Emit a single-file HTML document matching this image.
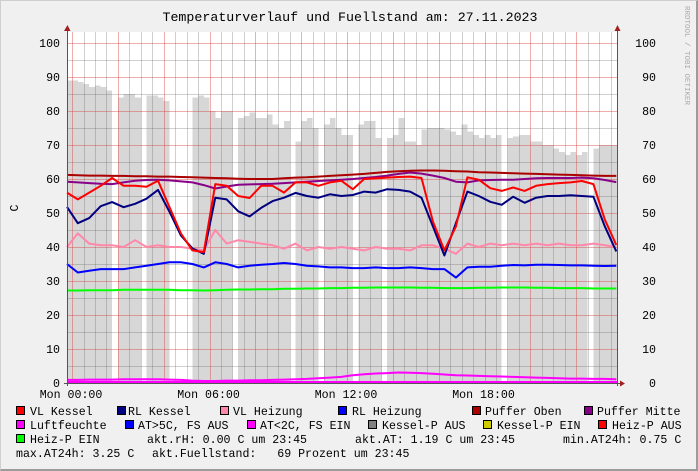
<!DOCTYPE html>
<html><head><meta charset="utf-8">
<style>
html,body{margin:0;padding:0;}
body{width:698px;height:471px;background:#f0f0f0;overflow:hidden;position:relative;font-family:"Liberation Mono","DejaVu Sans Mono",monospace;}
#frame{position:absolute;left:0;top:0;border-right:2px solid #9c9c9c;border-bottom:2px solid #9c9c9c;border-left:1px solid #cfcfcf;border-top:1px solid #cfcfcf;box-sizing:border-box;width:698px;height:471px;}
svg{position:absolute;left:0;top:0;}
text{font-family:"Liberation Mono","DejaVu Sans Mono",monospace;}
</style></head>
<body>
<div id="frame"></div>
<svg id="chart" width="698" height="471"></svg>
<script>
const fillTimes0 = -0.25, fillStep = 0.25;
const fuellstand = [89,89,88.5,88,87,87.5,87,86,0,84,85,85,84,0,84.5,84.5,84,83,0,0,0,0,84,84.5,84,80,78,80,80,0,78,78.5,79.5,78,78,79,76,75,77,0,71,77,78,75,0,76,78,75,73,73,0,76,77,77,72,0,72,73,78,71,71,70,74.5,75,75,75,74.5,74,73,76,74,73,72,73,72,73,0,72,72.5,73,73,71,71,70,70,69,68,67,68,67,68,0,69,70,70,70,70];
const lineTimes0 = -0.25, lineStep = 0.5;
const vlKessel = [56,54,56,58,60.3,58,58,57.7,59.5,51.8,44,39,38.5,58.5,58,55,54.4,58,58,56,59,59,58,59,59.5,57,60,60.2,60.4,60.6,60.7,60.3,47.4,39,46,60.5,59.8,57.3,56.5,57.5,56.5,58,58.5,58.8,59,59.4,58.5,48,40.6];
const rlKessel = [51.8,47,48.5,52,53.2,51.7,52.7,54.2,56.8,50.4,43.4,39.6,38,54.5,54,50.5,49,51.5,53.5,54.5,55.9,55,54.5,55.5,55,55.3,56.3,56,57,56.8,56.3,54.5,46,37.5,47,56.3,55,53.3,52.4,54.8,53,54.5,55,55,55.2,55,54.8,46,38.7];
const vlHeizung = [40,44,41,40.5,40.5,40,42,40,40.5,40,40,39.5,39,45,41,42,41.5,41,40.5,39.5,41,39,40,39.5,40,39.5,39,40,39.5,39.5,39,40.5,40.5,39.5,38,41,40,41,40.5,41,40.5,41,40.5,41,40.5,40.5,41,40.5,40];
const rlHeizung = [35,32.5,33,33.5,33.5,33.5,34,34.5,35,35.5,35.5,35,34,35.5,35,34,34.5,34.8,35,35.3,35,34.5,34.3,34,34,33.8,33.8,34,33.8,33.8,34,33.8,33.5,33.5,31,34,34.2,34.2,34.5,34.7,34.6,34.8,34.8,34.7,34.6,34.6,34.5,34.4,34.5];
const pufferOben = [61.2,61.1,61,61,60.9,60.9,60.8,60.8,60.7,60.7,60.6,60.5,60.4,60.3,60.2,60.1,60,60,60,60.2,60.4,60.5,60.7,60.9,61.1,61.3,61.5,61.8,62.1,62.3,62.4,62.5,62.5,62.4,62.3,62.2,62,61.9,61.8,61.7,61.6,61.5,61.4,61.3,61.2,61.1,61,60.9,60.9];
const pufferMitte = [59.2,59,58.8,58.6,58.5,59,59.5,59.7,59.8,59.6,59.3,59,58.2,57.2,57.8,58.3,58.4,58.5,58.6,58.8,59,59.2,59.4,59.6,59.8,60,60.3,60.6,61,61.5,61.9,61.6,61,60.3,59.2,59,59.6,59.7,59.8,59.8,60,60.2,60.3,60.3,60.3,60.4,60.2,59.7,59.1];
const heizPEin = [27.2,27.2,27.3,27.3,27.3,27.4,27.4,27.4,27.4,27.4,27.3,27.3,27.2,27.3,27.4,27.5,27.5,27.6,27.6,27.7,27.7,27.8,27.8,27.9,27.9,28,28,28.1,28.1,28.1,28.1,28,28,27.9,27.9,27.9,28,28,28.1,28.1,28.1,28,28,27.9,27.9,27.9,27.8,27.8,27.8];
const luftfeuchte = [0.9,0.9,1,1,1,1.1,1.1,1.1,1.1,1,0.9,0.7,0.6,0.6,0.7,0.7,0.8,0.8,0.9,1,1.1,1.2,1.4,1.6,1.8,2.3,2.6,2.8,2.9,3.1,3,2.9,2.7,2.5,2.3,2.2,2.1,2,1.9,1.8,1.7,1.6,1.5,1.4,1.3,1.3,1.2,1.2,1.1];
const yTicks = [0,10,20,30,40,50,60,70,80,90,100];
const xTickHours = [0,6,12,18];
const xTickLabels = ["Mon 00:00","Mon 06:00","Mon 12:00","Mon 18:00"];

const NS="http://www.w3.org/2000/svg";
const svg=document.getElementById('chart');
const L=67,R=617,T=32,B=383;
const H0=-0.22,H1=23.78;
function xs(h){return L+(h-H0)/(H1-H0)*(R-L);}
function ys(v){return B-v*3.4;}
function mk(tag,attrs,parent){const e=document.createElementNS(NS,tag);for(const k in attrs)e.setAttribute(k,attrs[k]);(parent||svg).appendChild(e);return e;}

const bg=mk('rect',{x:L,y:T,width:R-L,height:B-T,fill:'#ffffff'});



let d='';
let open=false;
fuellstand.forEach((v,i)=>{
  const h=fillTimes0+i*fillStep;
  const x0=Math.max(L,xs(h)),x1=Math.min(R,xs(h+fillStep));
  if(v<=0||x1<=x0){ if(open){d+=`L${x0.toFixed(1)},${B}Z`;open=false;} return; }
  if(!open){d+=`M${x0.toFixed(1)},${B}`;open=true;}
  d+=`L${x0.toFixed(1)},${ys(v).toFixed(1)}L${x1.toFixed(1)},${ys(v).toFixed(1)}`;
});
if(open)d+=`L${R},${B}Z`;
const area=mk('path',{d:d,fill:'#d7d7d7','shape-rendering':'crispEdges'});



const gGrid=mk('g',{'shape-rendering':'crispEdges'});


for(let v=5;v<=100;v+=5){
  const major=v%10===0;
  const y=Math.round(ys(v))+0.5;
  mk('line',{x1:L,x2:R,y1:y,y2:y,stroke:major?'rgba(220,60,60,0.42)':'rgba(100,100,100,0.3)','stroke-width':1},gGrid);
}
for(let h=0;h<=H1;h+=0.5){
  const major=Math.abs(h%2)<1e-6;
  const x=Math.round(xs(h))+0.5;
  mk('line',{x1:x,x2:x,y1:T,y2:B,stroke:major?'rgba(220,60,60,0.42)':'rgba(100,100,100,0.3)','stroke-width':1},gGrid);
}

function drawLine(arr,color,name,w){
  const pts=arr.map((v,i)=>xs(Math.min(H1,Math.max(H0,lineTimes0+i*lineStep))).toFixed(1)+','+ys(v).toFixed(1)).join(' ');
  const p=mk('polyline',{points:pts,fill:'none',stroke:color,'stroke-width':w||2,'stroke-linejoin':'round'});
  
  
}
drawLine(heizPEin,'#00ff00','heiz-p-ein-line',2);
drawLine(luftfeuchte,'#ff00ff','luftfeuchte-line',2);
drawLine(rlHeizung,'#0000ff','rl-heizung-line',2);
drawLine(vlHeizung,'#ff88aa','vl-heizung-line',2);
drawLine(pufferOben,'#aa0000','puffer-oben-line',2);
drawLine(pufferMitte,'#880088','puffer-mitte-line',2);
drawLine(rlKessel,'#000080','rl-kessel-line',2);
drawLine(vlKessel,'#ff0000','vl-kessel-line',2);
const zl=mk('line',{x1:L,x2:R,y1:B-1,y2:B-1,stroke:'#ff00ff','stroke-width':2});



const ax=mk('g',{});


mk('line',{x1:L+0.5,x2:L+0.5,y1:T-3,y2:B+3,stroke:'#555','stroke-width':1},ax);
mk('line',{x1:R+0.5,x2:R+0.5,y1:T-3,y2:B+3,stroke:'#555','stroke-width':1},ax);
mk('line',{x1:L-3,x2:R+3,y1:B+0.5,y2:B+0.5,stroke:'#555','stroke-width':1},ax);
mk('polygon',{points:`${L-3},${T-1} ${L+3.5},${T-1} ${L+0.5},${T-7}`,fill:'#a02020'},ax);
mk('polygon',{points:`${R-2.5},${T-1} ${R+3.5},${T-1} ${R+0.5},${T-7}`,fill:'#a02020'},ax);
mk('polygon',{points:`${R+3},${B-2.5} ${R+3},${B+3.5} ${R+8},${B+0.5}`,fill:'#a02020'},ax);

yTicks.forEach(v=>{
  const t1=mk('text',{x:60,y:ys(v)+4,'text-anchor':'end','font-size':'11.6',fill:'#000'});
  t1.textContent=v;
  
  
  const t2=mk('text',{x:656,y:ys(v)+4,'text-anchor':'end','font-size':'11.6',fill:'#000'});
  t2.textContent=v;
  
  
});
xTickHours.forEach((h,i)=>{
  const t=mk('text',{x:xs(h)-1,y:398,'text-anchor':'middle','font-size':'11.6',fill:'#000'});
  t.textContent=xTickLabels[i];
  
  
});
</script>
<svg width="698" height="471" style="pointer-events:none">
<text x="350" y="21" text-anchor="middle" font-size="13.3">Temperaturverlauf und Fuellstand am: 27.11.2023</text>
<text transform="translate(18,208) rotate(-90)" text-anchor="middle" font-size="11.6">C</text>
<text transform="translate(685,6) rotate(90)" font-size="7.5" fill="#aaaaaa">RRDTOOL / TOBI OETIKER</text>
<g font-size="11.6">
<g><rect x="16.5" y="406.5" width="8" height="8" fill="#ff0000" stroke="#000"/><text x="30" y="415">VL Kessel</text></g>
<g><rect x="117.5" y="406.5" width="8" height="8" fill="#000080" stroke="#000"/><text x="128" y="415">RL Kessel</text></g>
<g><rect x="220.5" y="406.5" width="8" height="8" fill="#ff88aa" stroke="#000"/><text x="233" y="415">VL Heizung</text></g>
<g><rect x="338.5" y="406.5" width="8" height="8" fill="#0000ff" stroke="#000"/><text x="352" y="415">RL Heizung</text></g>
<g><rect x="472.5" y="406.5" width="8" height="8" fill="#aa0000" stroke="#000"/><text x="485" y="415">Puffer Oben</text></g>
<g><rect x="584.5" y="406.5" width="8" height="8" fill="#880088" stroke="#000"/><text x="597" y="415">Puffer Mitte</text></g>
<g><rect x="16.5" y="420.5" width="8" height="8" fill="#ff00ff" stroke="#000"/><text x="30" y="429">Luftfeuchte</text></g>
<g><rect x="125.5" y="420.5" width="8" height="8" fill="#0000ff" stroke="#000"/><text x="138" y="429">AT&gt;5C, FS AUS</text></g>
<g><rect x="247.5" y="420.5" width="8" height="8" fill="#ff00ff" stroke="#000"/><text x="260" y="429">AT&lt;2C, FS EIN</text></g>
<g><rect x="368.5" y="420.5" width="8" height="8" fill="#808080" stroke="#000"/><text x="382" y="429">Kessel-P AUS</text></g>
<g><rect x="483.5" y="420.5" width="8" height="8" fill="#cccc00" stroke="#000"/><text x="497" y="429">Kessel-P EIN</text></g>
<g><rect x="598.5" y="420.5" width="8" height="8" fill="#ff0000" stroke="#000"/><text x="612" y="429">Heiz-P AUS</text></g>
<g><rect x="16.5" y="434.5" width="8" height="8" fill="#00ff00" stroke="#000"/><text x="30" y="443">Heiz-P EIN</text></g>
<text x="147" y="443">akt.rH: 0.00 C um 23:45</text>
<text x="355" y="443">akt.AT: 1.19 C um 23:45</text>
<text x="563" y="443">min.AT24h: 0.75 C</text>
<text x="16" y="457">max.AT24h: 3.25 C</text>
<text x="152" y="457" xml:space="preserve">akt.Fuellstand:   69 Prozent um 23:45</text>
</g>
</svg>
</body></html>
